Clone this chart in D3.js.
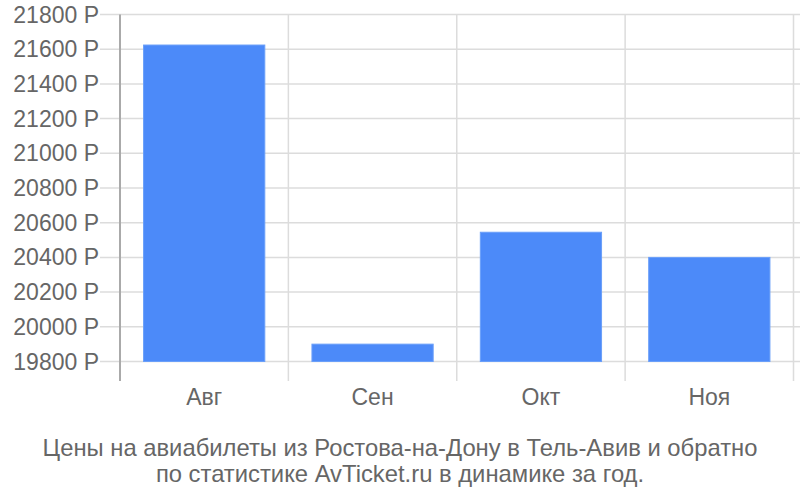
<!DOCTYPE html>
<html><head><meta charset="utf-8">
<script src="https://cdn.jsdelivr.net/npm/d3@7/dist/d3.min.js"></script>
<style>body{margin:0;background:#fff}svg{display:block}text{font-family:"Liberation Sans",Arial,sans-serif}</style>
</head><body>
<svg id="c" width="800" height="500"></svg>
<script>
const categories = ["Авг", "Сен", "Окт", "Ноя"];
const values = [21624, 19900, 20545, 20400];
const yTicks = [19800, 20000, 20200, 20400, 20600, 20800, 21000, 21200, 21400, 21600, 21800];
const titleLines = ["Цены на авиабилеты из Ростова-на-Дону в Тель-Авив и обратно", "по статистике AvTicket.ru в динамике за год."];

(function () {
const svg = d3.select("#c");
const plotLeft = 120, plotRight = 793.5, plotTop = 14.5, base = 361.5, axisBottom = 381;
const y = d3.scaleLinear().domain([19800, 21800]).range([base, plotTop]);
const x = d3.scaleBand().domain(categories).range([plotLeft, plotRight]).paddingInner(0.28).paddingOuter(0.14);

// horizontal gridlines
svg.append("g").selectAll("line").data(yTicks).join("line")
  .attr("x1", 100).attr("x2", 800)
  .attr("y1", d => y(d)).attr("y2", d => y(d))
  .attr("stroke", "#dcdcdc").attr("stroke-width", 1.5);

// vertical gridlines at band boundaries
const step = x.step();
const bounds = categories.map((c, i) => plotLeft + step * (i + 1));
svg.append("g").selectAll("line").data(bounds).join("line")
  .attr("x1", d => d).attr("x2", d => d)
  .attr("y1", plotTop).attr("y2", axisBottom)
  .attr("stroke", "#dcdcdc").attr("stroke-width", 1.5);

// bars
svg.append("g").selectAll("rect").data(values).join("rect")
  .attr("x", (d, i) => x(categories[i]))
  .attr("width", x.bandwidth())
  .attr("y", d => y(d))
  .attr("height", d => base - y(d))
  .attr("fill", "#4c8af9")
  .attr("stroke", "#6a9ff9").attr("stroke-width", 1);

// left axis line
svg.append("line").attr("x1", plotLeft).attr("x2", plotLeft).attr("y1", plotTop).attr("y2", axisBottom)
  .attr("stroke", "#aaaaaa").attr("stroke-width", 2);

// y labels
svg.append("g").selectAll("text").data(yTicks).join("text")
  .attr("x", 99).attr("y", d => y(d)).attr("dy", "0.35em")
  .attr("text-anchor", "end").attr("font-size", 23).attr("fill", "#666")
  .text(d => d + " Р");

// x labels
svg.append("g").selectAll("text").data(categories).join("text")
  .attr("x", d => x(d) + x.bandwidth() / 2).attr("y", 405)
  .attr("text-anchor", "middle").attr("font-size", 23).attr("fill", "#666")
  .text(d => d);

// title
svg.append("g").selectAll("text").data(titleLines).join("text")
  .attr("x", 400).attr("y", (d, i) => 456 + i * 26)
  .attr("text-anchor", "middle").attr("font-size", 23.8).attr("fill", "#666")
  .text(d => d);
})();
</script>
</body></html>
